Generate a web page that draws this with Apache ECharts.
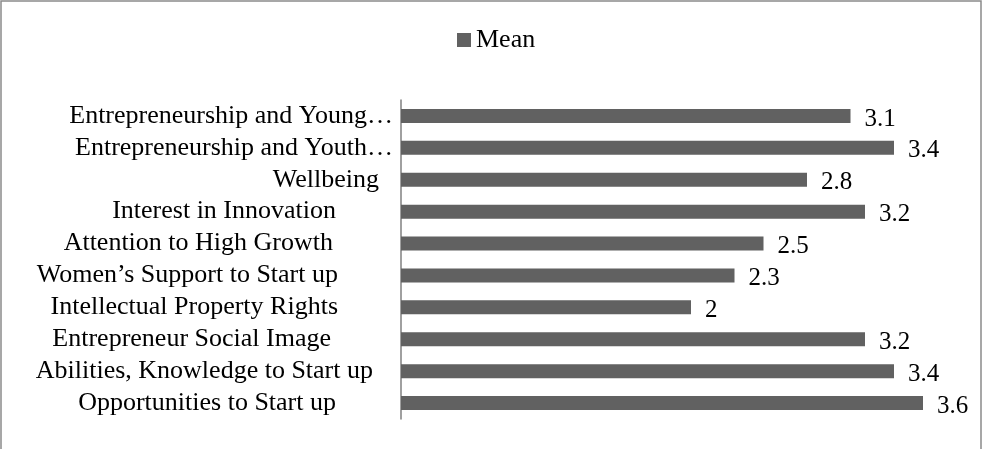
<!DOCTYPE html>
<html>
<head>
<meta charset="utf-8">
<script src="https://cdn.jsdelivr.net/npm/echarts@6/dist/echarts.min.js"></script>
<style>
html,body{margin:0;padding:0;background:#fff;}
#chart{width:982px;height:449px;}
</style>
</head>
<body>
<div id="chart"></div>
<script>
const categories = [
  'Entrepreneurship and Young…',
  'Entrepreneurship and Youth…',
  'Wellbeing',
  'Interest in Innovation',
  'Attention to High Growth',
  'Women’s Support to Start up',
  'Intellectual Property Rights',
  'Entrepreneur Social Image',
  'Abilities, Knowledge to Start up',
  'Opportunities to Start up'
];
const meanValues = [3.1, 3.4, 2.8, 3.2, 2.5, 2.3, 2, 3.2, 3.4, 3.6];
const seriesName = 'Mean';

// layout: trailing space after each category label (as in the original)
const labelTrail = [0, 0, 14, 57, 60, 55, 55, 62, 20, 57];

const FONT = "'Liberation Serif', 'Times New Roman', serif";
const rich = { t: { fontFamily: FONT, fontSize: 26, color: '#000' } };
labelTrail.forEach((w, i) => { rich['s' + i] = { width: w, fontSize: 26 }; });

const chart = echarts.init(document.getElementById('chart'));
chart.setOption({
  animation: false,
  backgroundColor: '#fff',
  textStyle: { fontFamily: FONT },
  graphic: [{
    type: 'rect',
    shape: { x: 1, y: 1, width: 980, height: 520 },
    style: { fill: 'none', stroke: '#8a8a8a', lineWidth: 1.5 },
    silent: true
  }],
  legend: {
    data: [seriesName],
    left: 457,
    top: 27,
    padding: 0,
    itemWidth: 14,
    itemHeight: 14,
    itemGap: 10,
    icon: 'rect',
    textStyle: { fontFamily: FONT, fontSize: 26, color: '#000', lineHeight: 26 }
  },
  grid: { left: 401, top: 100, width: 580, height: 319, containLabel: false },
  xAxis: {
    type: 'value', min: 0, max: 4, show: false
  },
  yAxis: {
    type: 'category',
    inverse: true,
    data: categories,
    axisLine: { show: true, lineStyle: { color: '#808080', width: 1.5 } },
    axisTick: { show: false },
    axisLabel: {
      margin: 8,
      interval: 0,
      formatter: (value, index) => '{t|' + value + '}' + (labelTrail[index] ? '{s' + index + '| }' : ''),
      rich: rich
    }
  },
  series: [{
    name: seriesName,
    type: 'bar',
    data: meanValues,
    barWidth: 14,
    itemStyle: { color: '#616161' },
    label: {
      show: true,
      position: 'right',
      distance: 14,
      offset: [0, 3],
      fontFamily: FONT,
      fontSize: 25,
      color: '#000'
    }
  }]
});
</script>
</body>
</html>
